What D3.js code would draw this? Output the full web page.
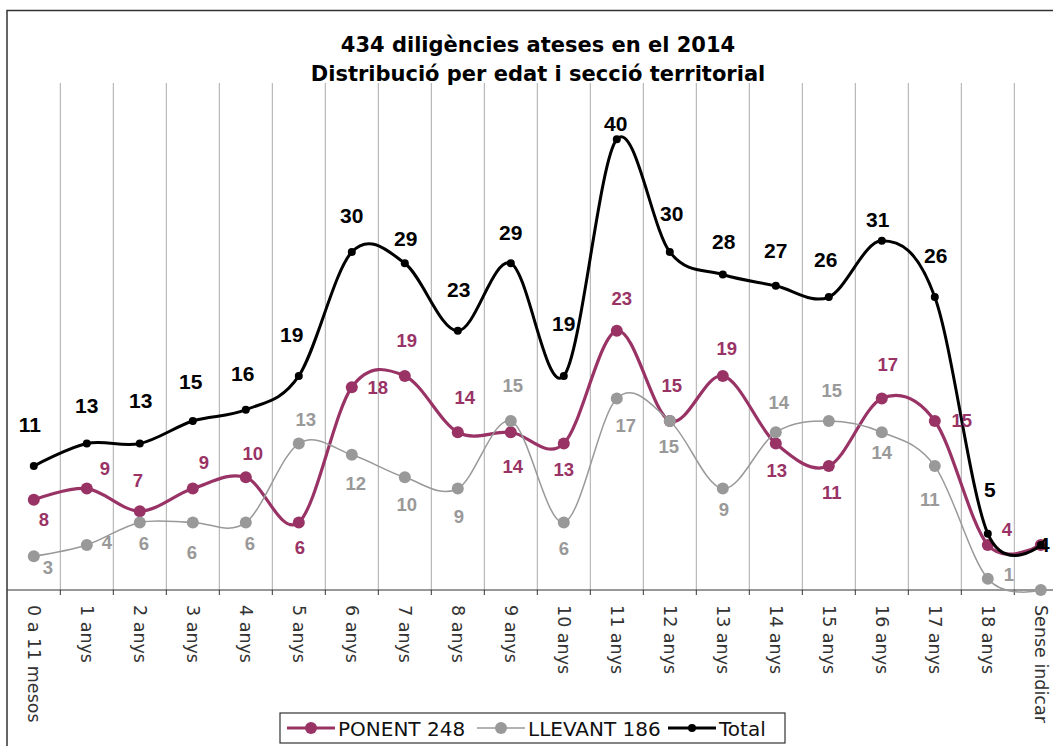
<!DOCTYPE html>
<html>
<head>
<meta charset="utf-8">
<script src="https://cdn.jsdelivr.net/npm/d3@7"></script>
<style>
  html, body { margin: 0; padding: 0; background: #fff; }
  svg { display: block; }
</style>
</head>
<body>
<svg id="chart" width="1053" height="746"></svg>
<script>
// #region Data
const titleLines = ["434 diligències ateses en el 2014", "Distribució per edat i secció territorial"];
const categories = ["0 a 11 mesos", "1 anys", "2 anys", "3 anys", "4 anys", "5 anys", "6 anys", "7 anys",
  "8 anys", "9 anys", "10 anys", "11 anys", "12 anys", "13 anys", "14 anys", "15 anys", "16 anys",
  "17 anys", "18 anys", "Sense indicar"];
const ponent = [8, 9, 7, 9, 10, 6, 18, 19, 14, 14, 13, 23, 15, 19, 13, 11, 17, 15, 4, 4];
const llevant = [3, 4, 6, 6, 6, 13, 12, 10, 9, 15, 6, 17, 15, 9, 14, 15, 14, 11, 1, 0];
const total = [11, 13, 13, 15, 16, 19, 30, 29, 23, 29, 19, 40, 30, 28, 27, 26, 31, 26, 5, 4];
const seriesNames = ["PONENT 248", "LLEVANT 186", "Total"];
// #endregion

// label placement (dx, dy from the point)
const ponentLabelOffset = [[10, 20], [18, -20], [-2, -31], [11, -26], [7, -24], [1, 25], [26, 0], [2, -35],
  [7, -35], [2, 34], [0, 26], [5, -32], [2, -35], [4, -27], [1, 27], [3, 26], [6, -34], [27, 0], [19, -15], [24, 0]];
const llevantLabelOffset = [[14, 11], [20, -2], [4, 21], [-1, 30], [4, 21], [7, -24], [4, 29], [2, 27],
  [1, 28], [2, -35], [0, 26], [9, 27], [-1, 26], [1, 21], [3, -30], [3, -30], [0, 20], [-5, 33], [21, -4], [24, 0]];
const totalLabelOffset = [[-4, -41], [0, -38], [1, -43], [-2, -39], [-3, -36], [-7, -41], [0, -36], [1, -25],
  [1, -41], [0, -31], [0, -52], [-1, -16], [2, -38], [1, -33], [0, -35], [-3, -37], [-4, -21], [1, -41], [2, -44], [3, 0]];

const svg = d3.select("#chart");

const x = d3.scaleBand().domain(categories).range([7.3, 1067.3]);
const y = d3.scaleLinear().domain([0, 45]).range([590, 83]);
const cx = (i) => x(categories[i]) + x.bandwidth() / 2;

const series = [
  { name: seriesNames[0], values: ponent, color: "#993366", width: 3.2, r: 6, offsets: ponentLabelOffset,
    labelColor: "#993366", labelSize: 18.5 },
  { name: seriesNames[1], values: llevant, color: "#999999", width: 1.5, r: 6, offsets: llevantLabelOffset,
    labelColor: "#999999", labelSize: 18.5 },
  { name: seriesNames[2], values: total, color: "#000000", width: 3, r: 4, offsets: totalLabelOffset,
    labelColor: "#000000", labelSize: 21 },
];

// #region Frame, title, grid
svg.append("rect")
  .attr("x", 7).attr("y", 10.5)
  .attr("width", 1100).attr("height", 800)
  .attr("fill", "#fff")
  .attr("stroke", "#333").attr("stroke-width", 1.5);

svg.append("text")
  .attr("x", 538)
  .attr("text-anchor", "middle")
  .attr("font-family", "'DejaVu Sans', Verdana, sans-serif")
  .attr("font-weight", "bold")
  .attr("font-size", 21)
  .selectAll("tspan")
  .data(titleLines)
  .join("tspan")
  .attr("x", 538)
  .attr("y", (d, i) => 52 + i * 28.5)
  .text((d) => d);

const boundaries = categories.slice(1).map((c) => x(c));

svg.append("g")
  .selectAll("line")
  .data(boundaries)
  .join("line")
  .attr("x1", (d) => d).attr("x2", (d) => d)
  .attr("y1", y(45)).attr("y2", y(0))
  .attr("stroke", "#ababab").attr("stroke-width", 1);

// x axis
const axis = svg.append("g").attr("class", "x-axis");
axis.append("line")
  .attr("x1", x.range()[0]).attr("x2", x.range()[1])
  .attr("y1", y(0)).attr("y2", y(0))
  .attr("stroke", "#333").attr("stroke-width", 1.2);
axis.selectAll(".tick")
  .data(boundaries)
  .join("line")
  .attr("class", "tick")
  .attr("x1", (d) => d).attr("x2", (d) => d)
  .attr("y1", y(0)).attr("y2", y(0) + 5)
  .attr("stroke", "#333");
axis.selectAll("text")
  .data(categories)
  .join("text")
  .attr("transform", (d, i) => `translate(${cx(i)},${y(0) + 15}) rotate(90)`)
  .attr("dy", "0.33em")
  .attr("font-family", "'DejaVu Sans', Verdana, sans-serif")
  .attr("font-size", 17.5)
  .attr("fill", "#333")
  .text((d) => d);
// #endregion

// #region Lines, markers, labels
const line = d3.line()
  .x((d, i) => cx(i))
  .y((d) => y(d))
  .curve(d3.curveCardinal.tension(0));

series.forEach((s) => {
  const g = svg.append("g");
  g.append("path")
    .attr("d", line(s.values))
    .attr("fill", "none")
    .attr("stroke", s.color)
    .attr("stroke-width", s.width);
  g.selectAll("circle")
    .data(s.values)
    .join("circle")
    .attr("cx", (d, i) => cx(i))
    .attr("cy", (d) => y(d))
    .attr("r", s.r)
    .attr("fill", s.color);
});

series.forEach((s) => {
  svg.append("g")
    .selectAll("text")
    .data(s.values)
    .join("text")
    .attr("x", (d, i) => cx(i) + s.offsets[i][0])
    .attr("y", (d, i) => y(d) + s.offsets[i][1])
    .attr("dy", "0.35em")
    .attr("text-anchor", "middle")
    .attr("font-family", "'Liberation Sans', Arial, sans-serif")
    .attr("font-weight", "bold")
    .attr("font-size", s.labelSize)
    .attr("fill", s.labelColor)
    .text((d) => d);
});
// #endregion

// #region Legend
const legend = svg.append("g");
legend.append("rect")
  .attr("x", 280).attr("y", 713)
  .attr("width", 505).attr("height", 30)
  .attr("fill", "#fff")
  .attr("stroke", "#333").attr("stroke-width", 1.2);

const legendX = [287, 477, 668];
series.forEach((s, i) => {
  const lx = legendX[i];
  legend.append("line")
    .attr("x1", lx).attr("x2", lx + 48)
    .attr("y1", 728).attr("y2", 728)
    .attr("stroke", s.color).attr("stroke-width", s.width);
  legend.append("circle")
    .attr("cx", lx + 24).attr("cy", 728)
    .attr("r", s.r)
    .attr("fill", s.color);
  legend.append("text")
    .attr("x", lx + 51).attr("y", 735.5)
    .attr("font-family", "'DejaVu Sans', Verdana, sans-serif")
    .attr("font-size", 20)
    .attr("fill", "#111")
    .text(s.name);
});
// #endregion
</script>
</body>
</html>
